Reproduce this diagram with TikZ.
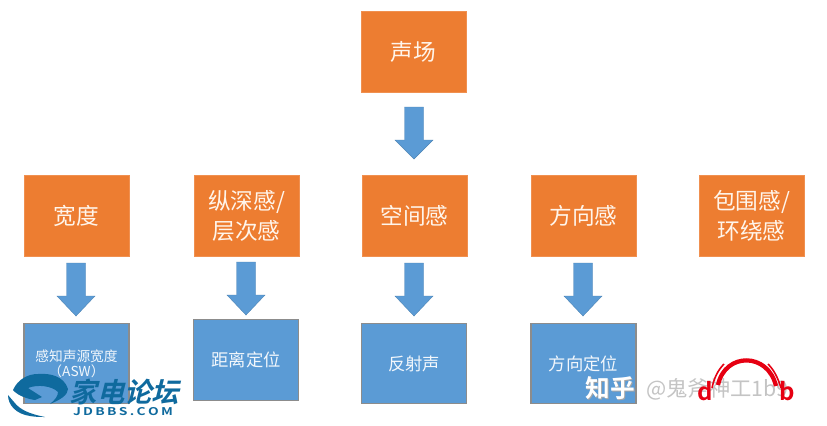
\documentclass[tikz,border=0pt]{standalone}
\usepackage{fontspec}
\setmainfont{Noto Sans CJK SC}
\newfontfamily\cjklight{Noto Sans CJK SC Light}
\newfontfamily\cjkbold{Noto Sans CJK SC Bold}
\usetikzlibrary{calc}
\definecolor{orangebox}{HTML}{ED7D31}
\definecolor{bluebox}{HTML}{5B9BD5}
\definecolor{logoblue}{HTML}{0F6A9E}
\definecolor{hpred}{HTML}{E60012}
\definecolor{wmgrey}{HTML}{C4C4C4}
\newcommand{\flowarrow}[2]{%
  \fill[bluebox,draw=bluebox!85!black,line width=0.3pt]
   ($(#1)+(-9.5,0)$) -- ($(#1)+(9.5,0)$) -- ($(#1)+(9.5,33)$) -- ($(#1)+(19,33)$)
   -- ($(#1)+(0,#2)$) -- ($(#1)+(-19,33)$) -- ($(#1)+(-9.5,33)$) -- cycle;}
\tikzset{
  x=0.75pt,y=-0.75pt,
  obox/.style={draw=orangebox!85!white,fill=orangebox,line width=0.6pt,text=orange!8!white,align=center,inner sep=0pt,
     minimum width=78.75pt,minimum height=60.5pt,font=\fontsize{17}{23}\selectfont},
  bbox/.style={draw=black!45,fill=bluebox,line width=0.8pt,text=white!92!bluebox,align=center,inner sep=0pt,
     minimum width=78.75pt,minimum height=60.5pt,font=\fontsize{13}{17}\selectfont},
}
\begin{document}
\begin{tikzpicture}
\useasboundingbox (0,0) rectangle (827,425);
\fill[white] (0,0) rectangle (827,425);
% orange
\node[obox] (sc) at (413.5,52) {声场};
\node[obox] (kd) at (76.5,216) {宽度};
\node[obox] (zs) at (246.5,216) {纵深感/\\层次感};
\node[obox] (kj) at (414.5,216) {空间感};
\node[obox] (fx) at (583.5,216) {方向感};
\node[obox] (bw) at (751.5,216) {包围感/\\环绕感};
% blue
\node[bbox,font=\fontsize{10.3}{11.5}\selectfont] (asw) at (76.5,363.5) {感知声源宽度\\（ASW）};
\node[bbox] (jl) at (246,360) {距离定位};
\node[bbox] (fs) at (414,363.5) {反射声};
\node[bbox] (dw) at (583.5,363.5) {方向定位};
% arrows
\coordinate (a0) at (414,107); \flowarrow{a0}{52}
\coordinate (a1) at (76,263);  \flowarrow{a1}{53}
\coordinate (a2) at (246,262); \flowarrow{a2}{53}
\coordinate (a3) at (414,263); \flowarrow{a3}{53}
\coordinate (a4) at (583,263); \flowarrow{a4}{53}
% Zhihu watermark
\node[text=black!35,font=\cjkbold\fontsize{18.5}{20}\selectfont,inner sep=0pt] (zhs) at (611.5,389.5) {知乎};
\node[text=white,font=\cjkbold\fontsize{18.5}{20}\selectfont,inner sep=0pt] (zh) at (610,388) {知乎};
\node[text=wmgrey,font=\fontsize{16}{18}\selectfont,inner sep=0pt,anchor=west] (zu) at (646,389) {@鬼斧神工1b9};
% headphone watermark
\draw[hpred,line width=3.2pt] (718,385) .. controls (725,352) and (768,352) .. (776,386);
\draw[hpred,line width=1.2pt] (712,388) .. controls (714,378) and (718,370) .. (724,364);
\draw[hpred,line width=1.2pt] (781,388) .. controls (778,378) and (774,370) .. (768,364);
\node[text=hpred,font=\cjkbold\fontsize{18}{20}\selectfont,inner sep=0pt,anchor=base] (hd) at (705,400) {d};
\node[text=hpred,font=\cjkbold\fontsize{18}{20}\selectfont,inner sep=0pt,anchor=base] (hb) at (787,400) {b};
% JDBBS logo
\fill[logoblue]
  (13,390) .. controls (18,379) and (28,374) .. (38,374)
  .. controls (50,373) and (64,376) .. (68,389)
  .. controls (68,395) and (60,400) .. (50,404)
  .. controls (55,400) and (58,396) .. (58,392)
  .. controls (52,386) and (38,384) .. (28,388)
  -- (42,397) -- (35,400)
  .. controls (28,399) and (18,396) .. (13,390) -- cycle;
\fill[logoblue] (8,395) .. controls (8,405) and (16,414) .. (30,416)
  .. controls (36,417) and (40,417) .. (45,417)
  .. controls (30,414) and (20,410) .. (14,402)
  .. controls (12,400) and (10,397) .. (8,395) -- cycle;
\node[text=logoblue,font=\cjkbold\fontsize{20.5}{22}\selectfont,inner sep=0pt,xslant=0.25] (jd) at (127,392) {家电论坛};
\node[text=logoblue,font=\cjkbold\fontsize{8}{9}\selectfont,inner sep=0pt,xscale=1.3] (jdc) at (123,412) {J\,D\,B\,B\,S\,.\,C\,O\,M};
\end{tikzpicture}
\end{document}
